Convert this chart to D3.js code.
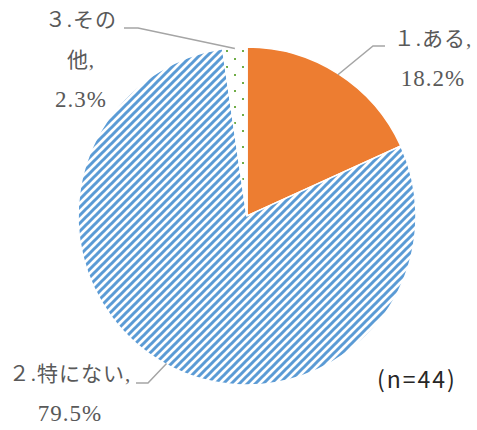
<!DOCTYPE html>
<style>
body { margin: 0; background: #fff; }
.lbl {
  font-family: 'Liberation Serif', 'Noto Sans CJK JP', serif;
  font-size: 21px;
  fill: #595959;
  text-anchor: middle;
  letter-spacing: 1px;
}
.lbl .pct { font-size: 23px; }
.leader { fill: none; stroke: #A5A5A5; stroke-width: 1.5px; }
.note { font-family: 'Noto Sans CJK JP', sans-serif; font-size: 23px; fill: #262626; letter-spacing: 2px; }
</style>
<svg width="477" height="430"></svg>
<script src="https://d3js.org/d3.v7.min.js"></script>
<script>
// survey answers, n=44
var categories = ["１.ある", "２.特にない", "３.その他"];
var shares = [18.2, 79.5, 2.3];
var sampleNote = "(n=44)";

var svg = d3.select("svg"),
    cx = 247, cy = 216, radius = 169;

var defs = svg.append("defs");

// wide upward diagonal
var stripes = defs.append("pattern")
    .attr("id", "stripes")
    .attr("patternUnits", "userSpaceOnUse")
    .attr("width", 8).attr("height", 8);
stripes.append("rect").attr("width", 8).attr("height", 8).attr("fill", "#fff");
stripes.append("path")
    .attr("d", "M-2,2L2,-2M0,8L8,0M6,10L10,6")
    .attr("stroke", "#5B9BD5")
    .attr("stroke-width", 3);

// sparse dots
var dots = defs.append("pattern")
    .attr("id", "dots")
    .attr("patternUnits", "userSpaceOnUse")
    .attr("width", 16).attr("height", 16)
    .attr("x", 3).attr("y", 2);
dots.append("rect").attr("width", 16).attr("height", 16).attr("fill", "#fff");
dots.append("rect").attr("x", 0).attr("y", 0).attr("width", 2).attr("height", 2).attr("fill", "#70AD47");
dots.append("rect").attr("x", 8).attr("y", 8).attr("width", 2).attr("height", 2).attr("fill", "#70AD47");

var fills = ["#ED7D31", "url(#stripes)", "url(#dots)"];

var data = categories.map(function(c, i) { return {name: c, value: shares[i], fill: fills[i]}; });

var pie = d3.pie().sort(null).value(function(d) { return d.value; });
var arc = d3.arc().innerRadius(0).outerRadius(radius);

var g = svg.append("g").attr("transform", "translate(" + cx + "," + cy + ")");
var arcs = pie(data);

g.selectAll("path.slice")
    .data(arcs)
  .enter().append("path")
    .attr("class", "slice")
    .attr("d", arc)
    .attr("fill", function(d) { return d.data.fill; })
    .attr("stroke", "#fff")
    .attr("stroke-width", 1.5);

// label placement (elbow point, end of leader, text centre, first baseline, line texts)
var labelPos = [
  {elbow: [373, 46], end: [385, 46], tx: 433, ty: 46, lines: function(d) { return [d.name + ",", d.value.toFixed(1) + "%"]; }},
  {elbow: [148, 383], end: [136, 383], tx: 70, ty: 381, lines: function(d) { return [d.name + ",", d.value.toFixed(1) + "%"]; }},
  {elbow: [138, 28], end: [124, 28], tx: 81, ty: 27, lines: function(d) { return [d.name.slice(0, 4), d.name.slice(4) + ",", d.value.toFixed(1) + "%"]; }}
];

arcs.forEach(function(a, i) {
  var p = labelPos[i];
  var mid = (a.startAngle + a.endAngle) / 2;
  var sx = cx + (radius - 1) * Math.sin(mid),
      sy = cy - (radius - 1) * Math.cos(mid);
  svg.append("path")
      .attr("class", "leader")
      .attr("d", d3.line()([[sx, sy], p.elbow, p.end]));

  var t = svg.append("text").attr("class", "lbl");
  var lines = p.lines(a.data);
  lines.forEach(function(s, j) {
    t.append("tspan")
        .attr("class", j === lines.length - 1 ? "pct" : null)
        .attr("x", p.tx)
        .attr("y", p.ty + j * 40)
        .text(s);
  });
});

svg.append("text")
    .attr("class", "note")
    .attr("x", 377)
    .attr("y", 388)
    .text(sampleNote);
</script>
